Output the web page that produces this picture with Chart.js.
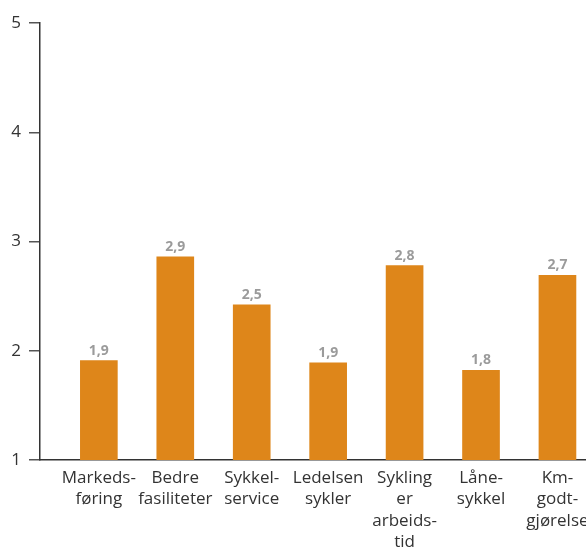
<!DOCTYPE html>
<html>
<head>
<meta charset="utf-8">
<script src="https://cdn.jsdelivr.net/npm/chart.js@4"></script>
<style>
html,body{margin:0;padding:0;background:#fff;overflow:hidden;}
#wrap{position:relative;width:640px;height:548px;}
canvas{display:block;}
</style>
</head>
<body>
<div id="wrap"><canvas id="c" width="640" height="548"></canvas></div>
<script>
const categories = [
  ["Markeds-","føring"],
  ["Bedre","fasiliteter"],
  ["Sykkel-","service"],
  ["Ledelsen","sykler"],
  ["Sykling","er","arbeids-","tid"],
  ["Låne-","sykkel"],
  ["Km-","godt-","gjørelse"]
];
const values = [1.91, 2.86, 2.42, 1.89, 2.78, 1.82, 2.69];
const valueLabels = ["1,9", "2,9", "2,5", "1,9", "2,8", "1,8", "2,7"];
const yTicks = [1, 2, 3, 4, 5];

const points = values.map((v, i) => ({x: i, y: v}));

const FONT = "'Open Sans', 'Liberation Sans', sans-serif";

const valueLabelPlugin = {
  id: 'valueLabels',
  afterDatasetsDraw(chart) {
    const ctx = chart.ctx;
    const meta = chart.getDatasetMeta(0);
    ctx.save();
    ctx.font = "bold 14px " + FONT;
    ctx.fillStyle = "#9b9b9b";
    ctx.textAlign = "center";
    ctx.textBaseline = "bottom";
    meta.data.forEach((el, i) => {
      ctx.fillText(valueLabels[i], el.x, el.y - 3);
    });
    ctx.restore();
  }
};

new Chart(document.getElementById('c'), {
  type: 'bar',
  data: {
    datasets: [{
      data: points,
      backgroundColor: '#DE861A',
      borderWidth: 0,
      barThickness: 37
    }]
  },
  options: {
    responsive: false,
    animation: false,
    events: [],
    layout: {padding: {top: 23, right: 0, left: 0, bottom: 0}},
    plugins: {legend: {display: false}, tooltip: {enabled: false}},
    scales: {
      x: {
        type: 'linear',
        offset: false,
        min: -0.77,
        max: 7.08,
        grid: {display: false, offset: false},
        border: {display: true, color: '#333', width: 1.5},
        afterFit(scale) { scale.height = 88; },
        ticks: {
          stepSize: 1,
          autoSkip: false,
          includeBounds: false,
          maxRotation: 0,
          minRotation: 0,
          padding: 0,
          color: '#333',
          font: {family: FONT, size: 17, lineHeight: 1.24},
          callback(v) {
            return (Number.isInteger(v) && v >= 0 && v < categories.length) ? categories[v] : '';
          }
        }
      },
      y: {
        min: 1,
        max: 5,
        afterFit(scale) { scale.width = 40; },
        afterBuildTicks(scale) { scale.ticks = yTicks.map(v => ({value: v})); },
        grid: {drawOnChartArea: false, drawTicks: true, tickLength: 11, color: '#555', lineWidth: 1.5},
        border: {display: true, color: '#333', width: 1.5},
        ticks: {
          padding: 8,
          color: '#333',
          font: {family: FONT, size: 17}
        }
      }
    }
  },
  plugins: [valueLabelPlugin]
});
</script>
</body>
</html>
